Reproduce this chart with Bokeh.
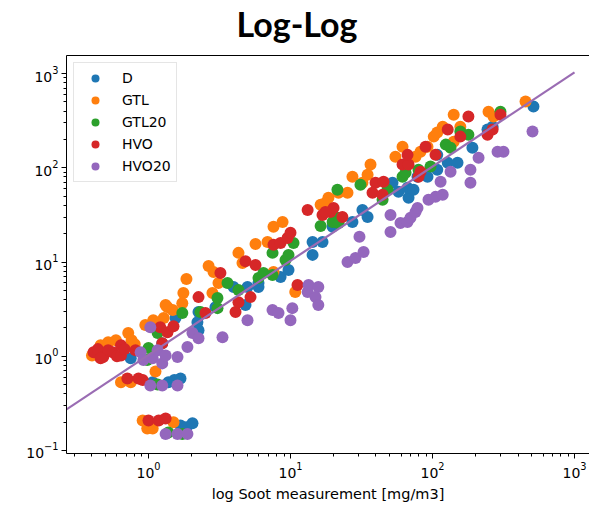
from bokeh.plotting import figure
from bokeh.models import Range1d, LogAxis, FixedTicker, Legend, LegendItem, Title
from bokeh.embed import file_html
from bokeh.resources import INLINE

# Soot measurement [mg/m3] (x) vs. predicted soot (y) per fuel
d_x = [0.75, 1.07, 1.38, 1.52, 1.68, 1.68, 1.85, 2.04, 1.25, 1.55, 2.21, 2.25, 2.25, 2.96,
       3.97, 4.82, 4.98, 5.95, 5.95, 8.51, 9.68, 14.3, 16.8, 14.3, 19.8, 27.3, 32.1, 34.9,
       52.3, 57.6, 67.8, 66.7, 73.5, 78.4, 92.2, 108, 108, 128, 150, 191, 244, 265, 514]
d_y = [0.95, 0.53, 0.53, 0.56, 0.58, 0.184, 0.176, 0.194, 1.37, 2.54, 2.30, 1.89, 2.94, 3.32,
       5.42, 3.49, 5.42, 5.98, 5.42, 6.92, 8.22, 16.3, 16.3, 11.9, 23.6, 26.6, 35.7, 30.1,
       69.2, 55.6, 48.0, 61.2, 58.3, 80.2, 80.2, 95.2, 137, 113, 113, 163, 254, 273, 446]

gtl_x = [0.91, 0.98, 1.07, 1.50, 0.64, 0.75, 1.12, 0.40, 0.46, 0.52, 0.59, 0.72, 0.76, 0.80,
         0.95, 1.08, 1.28, 1.36, 1.73, 1.76, 1.85, 1.32, 1.48, 2.65, 2.87, 3.11, 2.82, 4.30,
         4.59, 5.67, 6.89, 7.59, 8.79, 7.59, 10.8, 16.3, 18.5, 21.8, 25.2, 17.6, 27.3, 32.1,
         34.9, 36.6, 54.8, 61.5, 75.9, 82.3, 92.2, 102, 108, 118, 141, 157, 141, 248, 269, 452]
gtl_y = [0.208, 0.171, 0.171, 0.199, 0.53, 0.53, 0.69, 1.02, 1.31, 1.41, 1.48, 1.76, 1.48, 1.34,
         2.14, 2.41, 2.54, 3.32, 3.66, 4.68, 6.59, 3.49, 3.09, 9.06, 7.83, 5.98, 4.68, 12.5,
         9.76, 15.5, 16.3, 23.6, 26.6, 7.83, 4.80, 40.4, 48.0, 54.2, 54.2, 42.4, 80.2, 69.2,
         84.3, 108, 131, 167, 131, 148, 167, 214, 236, 273, 189, 273, 366, 394, 349, 504]

gtl20_x = [1.38, 1.73, 1.16, 1.00, 0.98, 1.16, 1.73, 2.32, 3.06, 3.06, 3.60, 4.30, 5.95, 6.45,
           7.47, 7.47, 9.22, 9.68, 10.5, 16.3, 21.4, 19.8, 21.8, 21.4, 31.1, 48.2, 44.5, 61.5,
           64.6, 79.7, 96.8, 124, 134, 157, 179, 301]
gtl20_y = [0.155, 0.150, 0.50, 1.22, 0.91, 1.76, 2.87, 2.94, 4.14, 3.24, 5.98, 5.04, 6.76, 7.64,
           7.27, 12.5, 10.5, 11.9, 15.9, 24.1, 29.4, 26.6, 26.0, 58.3, 65.9, 58.3, 45.7, 80.2,
           88.5, 95.2, 103, 176, 163, 242, 224, 394]

hvo_x = [1.00, 1.18, 1.32, 0.71, 0.85, 0.91, 0.41, 0.44, 0.48, 0.52, 0.56, 0.60, 0.64, 0.64,
         0.68, 0.46, 0.81, 1.25, 1.21, 1.36, 1.50, 2.25, 2.52, 3.21, 4.10, 4.30, 4.82, 5.23,
         5.67, 7.59, 8.51, 9.53, 10.0, 11.2, 13.2, 16.8, 19.1, 20.1, 23.2, 17.6, 39.7, 45.2,
         37.8, 44.5, 61.5, 67.8, 66.7, 89.3, 82.3, 105, 79.7, 128, 157, 179, 244, 265, 301]
hvo_y = [0.208, 0.208, 0.219, 0.58, 0.58, 0.56, 1.10, 1.19, 0.98, 1.16, 1.10, 1.00, 1.31, 1.02,
         1.19, 0.95, 1.16, 1.37, 2.03, 1.80, 2.08, 4.24, 2.87, 7.64, 2.94, 3.75, 10.2, 4.24,
         9.29, 15.2, 15.9, 18.0, 20.4, 5.69, 35.7, 31.6, 34.0, 37.5, 30.1, 34.0, 69.2, 71.0,
         54.2, 51.6, 108, 108, 137, 167, 90.7, 137, 80.2, 254, 214, 349, 224, 254, 366]

hvo20_x = [1.32, 1.60, 1.88, 1.03, 1.25, 1.60, 0.88, 0.92, 1.07, 1.16, 1.25, 1.32, 1.60, 1.88,
           1.03, 2.04, 2.25, 3.32, 4.98, 7.47, 8.23, 10.0, 10.3, 13.2, 13.4, 15.7, 15.0, 15.7,
           25.2, 28.7, 32.7, 30.6, 50.6, 50.6, 59.5, 66.7, 70.0, 75.9, 78.4, 93.7, 105, 118,
           114, 134, 185, 185, 211, 287, 316, 506]
hvo20_y = [0.150, 0.150, 0.150, 0.49, 0.49, 0.49, 1.10, 0.91, 0.95, 1.16, 0.84, 1.02, 0.98, 1.25,
           2.03, 1.76, 1.55, 1.59, 2.41, 3.09, 2.87, 2.41, 3.24, 4.80, 5.69, 5.42, 4.24, 3.49,
           10.0, 11.0, 12.8, 18.5, 20.8, 31.6, 26.0, 26.6, 29.4, 34.0, 37.5, 45.7, 49.1, 51.6,
           71.0, 90.7, 95.2, 69.2, 128, 148, 148, 242]

# Fitted power-law line (end points)
fit_x = [0.2, 1000]
fit_y = [0.206, 1030]

series = [
    ("D", d_x, d_y, "#1f77b4"),
    ("GTL", gtl_x, gtl_y, "#ff7f0e"),
    ("GTL20", gtl20_x, gtl20_y, "#2ca02c"),
    ("HVO", hvo_x, hvo_y, "#d62728"),
    ("HVO20", hvo20_x, hvo20_y, "#9467bd"),
]

FONT = "DejaVu Sans"

p = figure(width=589, height=507, x_axis_type="log", y_axis_type="log",
           x_range=Range1d(0.2646, 1275), y_range=Range1d(0.0929, 1553),
           output_backend="svg", toolbar_location=None,
           min_border_left=66, min_border_right=0, min_border_top=0, min_border_bottom=54)

p.title.text = "Log-Log"
p.title.text_font = "Lato"
p.title.text_font_style = "bold"
p.title.text_font_size = "34px"
p.title.text_color = "black"
p.title.align = "left"
p.title.offset = 170
p.title.standoff = 0

p.grid.visible = False
p.outline_line_color = None
p.background_fill_color = "white"
p.border_fill_color = "white"

for ax in (p.xaxis[0], p.yaxis[0]):
    ax.axis_line_color = "black"
    ax.major_tick_line_color = "black"
    ax.minor_tick_line_color = "black"
    ax.major_tick_out = 5
    ax.major_tick_in = 0
    ax.minor_tick_out = 3
    ax.minor_tick_in = 0
    ax.major_label_text_font = FONT
    ax.major_label_text_font_size = "14px"
    ax.major_label_text_color = "black"
    ax.major_label_standoff = 3

p.xaxis.axis_label = "log Soot measurement [mg/m3]"
p.xaxis.axis_label_text_font = FONT
p.xaxis.axis_label_text_font_style = "normal"
p.xaxis.axis_label_text_font_size = "14.5px"
p.xaxis.axis_label_text_color = "black"
p.xaxis.axis_label_standoff = 5

# top spine
top = LogAxis(ticker=FixedTicker(ticks=[]), axis_line_color="black",
              major_tick_out=0, minor_tick_out=0, major_tick_in=0, minor_tick_in=0,
              major_label_standoff=0)
p.add_layout(top, "above")

# blank band between the title and the frame
p.add_layout(Title(text=" ", text_font_size="9px", standoff=0), "above")

items = []
for name, xs, ys, color in series:
    r = p.scatter(xs, ys, size=12, fill_color=color, line_color=None)
    items.append(LegendItem(label=name, renderers=[r]))

p.line(fit_x, fit_y, line_color="#9a6cb3", line_width=2.2)

legend = Legend(items=items, location="top_left", margin=7, padding=5, spacing=2,
                glyph_width=32, glyph_height=20, label_height=20, label_standoff=11,
                label_text_font=FONT, label_text_font_size="14px", label_text_color="black",
                border_line_color="#cccccc", border_line_width=1,
                background_fill_alpha=0.8)
p.add_layout(legend)

open("out.html", "w").write(file_html(p, INLINE))
